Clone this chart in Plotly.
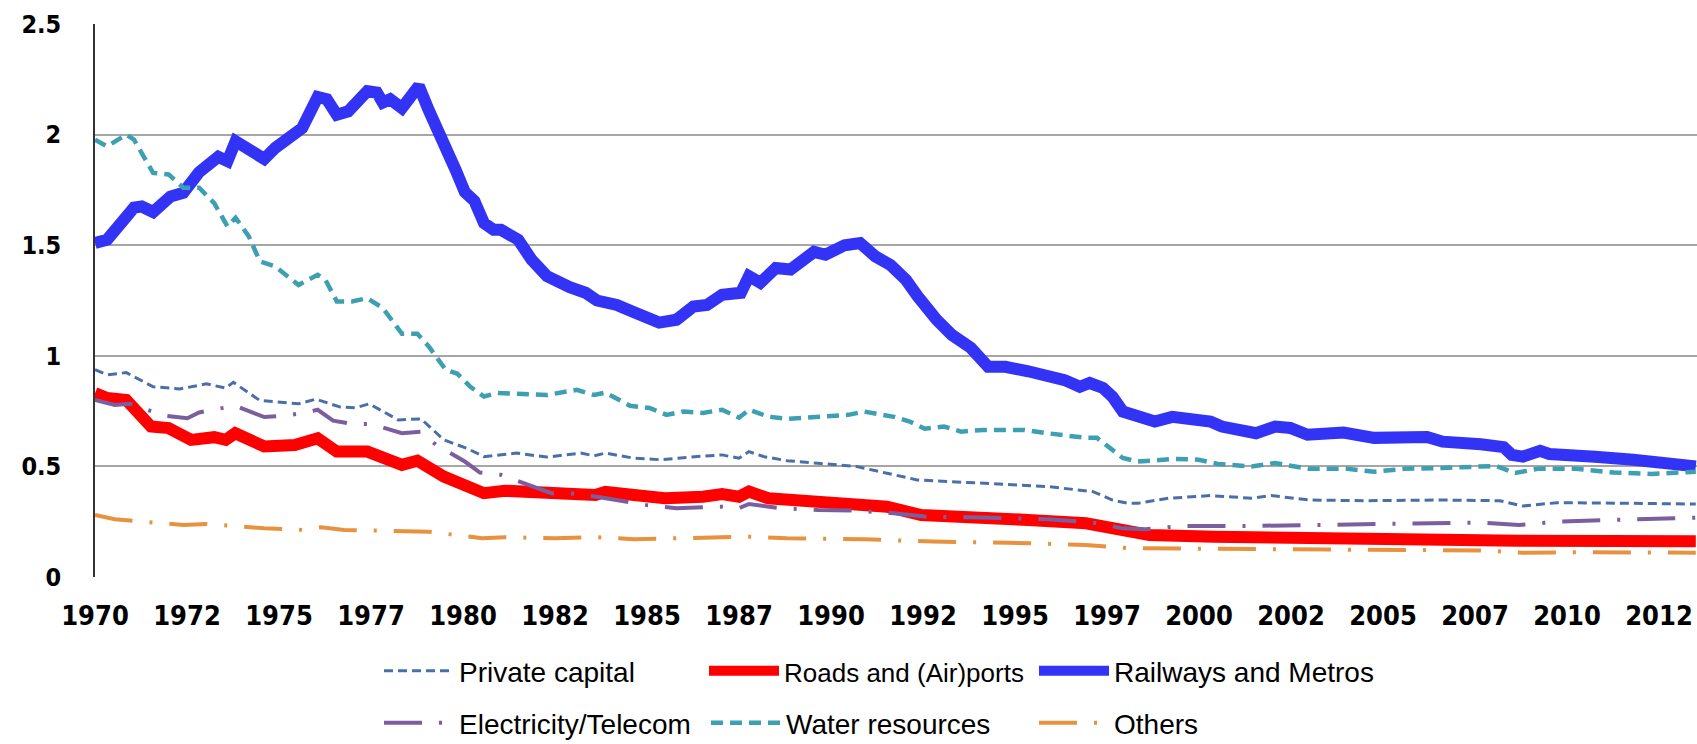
import plotly.graph_objects as go

# ---------------- data ----------------
TICK_YEARS = [1970, 1972.5, 1975, 1977.5, 1980, 1982.5, 1985, 1987.5, 1990,
              1992.5, 1995, 1997.5, 2000, 2002.5, 2005, 2007.5, 2010, 2012.5]
TICK_LABELS = ["1970", "1972", "1975", "1977", "1980", "1982", "1985", "1987", "1990",
               "1992", "1995", "1997", "2000", "2002", "2005", "2007", "2010", "2012"]
Y_TICKS = [0, 0.5, 1, 1.5, 2, 2.5]
Y_LABELS = ["0", "0.5", "1", "1.5", "2", "2.5"]

private_years = [1970.0, 1970.33, 1970.85, 1971.58, 1972.3, 1973.03, 1973.55, 1973.76, 1974.48,
                 1975.53, 1976.0, 1976.67, 1977.09, 1977.45, 1978.24, 1978.86, 1979.48, 1980.1,
                 1980.57, 1981.46, 1982.28, 1983.2, 1983.56, 1983.87, 1984.65, 1985.38, 1986.3,
                 1987.04, 1987.5, 1987.77, 1988.18, 1988.8, 1989.65, 1990.68, 1991.52, 1992.34,
                 1993.28, 1994.84, 1995.88, 1997.12, 1997.65, 1998.07, 1998.34, 1999.17, 2000.31,
                 2001.44, 2001.96, 2003.0, 2004.55, 2006.62, 2008.17, 2008.8, 2009.73, 2011.8,
                 2013.5]
private_values = [0.937, 0.914, 0.924, 0.86, 0.85, 0.873, 0.854, 0.88, 0.798,
                  0.783, 0.804, 0.768, 0.765, 0.783, 0.71, 0.715, 0.62, 0.582,
                  0.544, 0.56, 0.542, 0.56, 0.548, 0.56, 0.537, 0.53, 0.544,
                  0.552, 0.537, 0.567, 0.544, 0.526, 0.514, 0.50, 0.469, 0.439,
                  0.431, 0.416, 0.409, 0.386, 0.348, 0.333, 0.333, 0.356, 0.368,
                  0.356, 0.368, 0.348, 0.345, 0.348, 0.345, 0.321, 0.336, 0.333,
                  0.33]

roads_years = [1970.0, 1970.33, 1970.85, 1971.52, 1972.0, 1972.61, 1973.24, 1973.55, 1973.81,
               1974.6, 1975.43, 1976.05, 1976.57, 1977.4, 1978.34, 1978.76, 1979.48, 1980.1,
               1980.57, 1981.14, 1981.77, 1982.55, 1983.0, 1983.6, 1983.87, 1984.65, 1985.49,
               1986.52, 1987.04, 1987.5, 1987.77, 1988.29, 1989.65, 1990.68, 1991.52, 1992.45,
               1993.8, 1995.36, 1996.93, 1997.75, 1998.37, 1998.65, 2000.41, 2002.48, 2005.59,
               2008.7, 2013.5]
roads_values = [0.831, 0.809, 0.80, 0.68, 0.673, 0.62, 0.632, 0.62, 0.65,
                0.59, 0.597, 0.627, 0.567, 0.567, 0.507, 0.526, 0.454, 0.416,
                0.379, 0.39, 0.381, 0.368, 0.375, 0.371, 0.385, 0.371, 0.356,
                0.363, 0.375, 0.363, 0.386, 0.356, 0.345, 0.333, 0.318, 0.28,
                0.273, 0.258, 0.243, 0.213, 0.195, 0.19, 0.182, 0.175, 0.171,
                0.164, 0.162]

rail_years = [1970.0, 1970.33, 1971.06, 1971.27, 1971.58, 1972.05, 1972.4, 1972.83, 1973.35,
              1973.6, 1973.82, 1974.18, 1974.6, 1974.9, 1975.43, 1975.63, 1976.05, 1976.3,
              1976.57, 1976.88, 1977.4, 1977.66, 1977.82, 1978.02, 1978.34, 1978.8, 1979.07,
              1979.38, 1979.8, 1980.05, 1980.31, 1980.57, 1980.83, 1981.03, 1981.5, 1981.86,
              1982.28, 1982.9, 1983.33, 1983.64, 1984.18, 1984.6, 1984.96, 1985.33, 1985.8,
              1986.26, 1986.63, 1987.04, 1987.55, 1987.77, 1988.08, 1988.5, 1988.9, 1989.54,
              1989.85, 1990.37, 1990.79, 1991.2, 1991.62, 1992.04, 1992.35, 1992.66, 1992.87,
              1993.28, 1993.8, 1994.27, 1994.74, 1995.36, 1995.88, 1996.35, 1996.76, 1997.03,
              1997.39, 1997.65, 1997.93, 1998.34, 1998.8, 1999.27, 1999.8, 2000.31, 2000.62,
              2001.55, 2002.07, 2002.48, 2002.95, 2003.93, 2004.76, 2005.59, 2006.2, 2006.62,
              2007.24, 2007.66, 2008.28, 2008.5, 2008.8, 2009.27, 2009.52, 2010.24, 2010.76,
              2011.8, 2012.3, 2012.7, 2013.5]
rail_values = [1.51, 1.525, 1.67, 1.675, 1.65, 1.72, 1.737, 1.83, 1.90,
               1.88, 1.97, 1.94, 1.89, 1.94, 2.00, 2.03, 2.17, 2.16,
               2.09, 2.105, 2.196, 2.19, 2.145, 2.16, 2.12, 2.22, 2.11,
               1.98, 1.84, 1.74, 1.70, 1.60, 1.57, 1.57, 1.525, 1.435,
               1.36, 1.31, 1.285, 1.25, 1.23, 1.20, 1.178, 1.15, 1.163,
               1.223, 1.23, 1.276, 1.285, 1.36, 1.33, 1.397, 1.39, 1.47,
               1.457, 1.50, 1.51, 1.45, 1.41, 1.343, 1.27, 1.193, 1.163,
               1.095, 1.036, 0.95, 0.95, 0.93, 0.914, 0.89, 0.86, 0.877,
               0.855, 0.815, 0.748, 0.72, 0.703, 0.724, 0.72, 0.703, 0.68,
               0.65, 0.68, 0.674, 0.643, 0.653, 0.629, 0.638, 0.633, 0.612,
               0.612, 0.60, 0.587, 0.552, 0.544, 0.57, 0.556, 0.556, 0.544,
               0.53, 0.522, 0.507, 0.50]

elec_years = [1970.0, 1970.54, 1970.95, 1971.89, 1972.51, 1972.83, 1973.3, 1973.81, 1974.6,
              1975.17, 1975.74, 1976.05, 1976.47, 1976.98, 1977.5, 1978.34, 1978.86, 1979.27,
              1980.05, 1980.46, 1981.03, 1981.77, 1982.4, 1982.9, 1983.64, 1984.96, 1985.8,
              1987.04, 1987.5, 1987.77, 1988.6, 1989.65, 1990.68, 1991.71, 1992.55, 1993.8,
              1995.88, 1997.12, 1997.93, 1998.55, 1999.59, 2001.44, 2003.52, 2005.59, 2007.66,
              2008.7, 2009.73, 2011.8, 2013.5]
elec_values = [0.80, 0.778, 0.783, 0.729, 0.718, 0.744, 0.759, 0.774, 0.723,
               0.729, 0.744, 0.756, 0.707, 0.692, 0.692, 0.65, 0.657, 0.597,
               0.522, 0.472, 0.462, 0.416, 0.379, 0.379, 0.363, 0.326, 0.311,
               0.318, 0.311, 0.33, 0.311, 0.303, 0.30, 0.288, 0.273, 0.27,
               0.261, 0.246, 0.22, 0.216, 0.231, 0.231, 0.235, 0.24, 0.246,
               0.235, 0.25, 0.261, 0.268]

water_years = [1970.0, 1970.33, 1970.85, 1971.06, 1971.58, 1972.0, 1972.4, 1972.83, 1973.24,
               1973.6, 1973.82, 1974.18, 1974.48, 1974.9, 1975.53, 1976.05, 1976.26, 1976.57,
               1976.98, 1977.4, 1977.82, 1978.34, 1978.76, 1979.07, 1979.53, 1979.84, 1980.2,
               1980.57, 1980.94, 1982.28, 1983.09, 1983.56, 1983.87, 1984.54, 1985.07, 1985.53,
               1986.0, 1986.52, 1987.04, 1987.5, 1987.77, 1988.29, 1988.8, 1989.65, 1990.47,
               1990.9, 1991.71, 1992.14, 1992.55, 1993.07, 1993.54, 1994.12, 1995.26, 1995.88,
               1996.3, 1996.92, 1997.23, 1997.62, 1997.93, 1998.34, 1999.37, 1999.99, 2000.51,
               2001.43, 2002.07, 2002.99, 2004.03, 2004.76, 2005.59, 2006.62, 2007.66, 2008.07,
               2008.59, 2009.2, 2010.24, 2011.28, 2012.3, 2013.5]
water_values = [1.977, 1.947, 2.0, 1.977, 1.827, 1.82, 1.76, 1.76, 1.69,
                1.585, 1.624, 1.54, 1.427, 1.404, 1.32, 1.366, 1.344, 1.246,
                1.246, 1.26, 1.216, 1.10, 1.10, 1.042, 0.937, 0.92, 0.86,
                0.816, 0.832, 0.823, 0.846, 0.823, 0.834, 0.774, 0.764, 0.733,
                0.748, 0.742, 0.756, 0.72, 0.756, 0.725, 0.715, 0.724, 0.733,
                0.748, 0.724, 0.703, 0.67, 0.68, 0.657, 0.665, 0.665, 0.65,
                0.643, 0.629, 0.629, 0.575, 0.538, 0.522, 0.534, 0.53, 0.511,
                0.50, 0.515, 0.489, 0.489, 0.476, 0.489, 0.493, 0.50, 0.502,
                0.47, 0.489, 0.489, 0.472, 0.466, 0.476]

others_years = [1970.0, 1970.54, 1970.95, 1972.4, 1973.03, 1974.6, 1975.63, 1976.14, 1976.77,
                1978.34, 1979.07, 1980.52, 1981.14, 1982.5, 1983.64, 1984.65, 1986.52, 1987.77,
                1988.8, 1990.9, 1992.76, 1994.84, 1996.93, 1998.07, 2000.0, 2002.5, 2005.46,
                2007.66, 2008.8, 2010.5, 2013.5]
others_values = [0.28, 0.261, 0.255, 0.235, 0.24, 0.22, 0.213, 0.225, 0.213,
                 0.21, 0.205, 0.175, 0.18, 0.175, 0.18, 0.171, 0.175, 0.182,
                 0.175, 0.171, 0.16, 0.155, 0.145, 0.13, 0.128, 0.125, 0.122,
                 0.12, 0.11, 0.112, 0.11]

# ---------------- figure ----------------
FONT = "Liberation Sans, Arial, sans-serif"
TICK_FONT = "DejaVu Sans Condensed, DejaVu Sans, sans-serif"
W, H = 1697, 744
ML, MR, MT, MB = 95, 0, 24, 167
PX_PER_YEAR = 36.8
x_max = 1970 + (W - ML - MR) / PX_PER_YEAR

fig = go.Figure()

DASHDOT = "38px,17px,3px,17px"
series = [
    ("Private capital", private_years, private_values,
     dict(color="#4A6FA8", width=3, dash="9px,5px"), "legend"),
    ('<span style="font-size:26px">Roads and (Air)ports</span>', roads_years, roads_values,
     dict(color="#FF0000", width=12), "legend2"),
    ("Railways and Metros", rail_years, rail_values,
     dict(color="#3333F5", width=12), "legend3"),
    ("Electricity/Telecom", elec_years, elec_values,
     dict(color="#7B5E9E", width=4, dash=DASHDOT), "legend4"),
    ("Water resources", water_years, water_values,
     dict(color="#3C9FB2", width=4.5, dash="12px,7px"), "legend5"),
    ("Others", others_years, others_values,
     dict(color="#E8913E", width=4, dash=DASHDOT), "legend6"),
]

for name, xs, ys, line, leg in series:
    fig.add_trace(go.Scatter(x=xs, y=ys, mode="lines", name=name,
                             line=dict(shape="linear", **line), legend=leg))

# legend positions in pixels (left edge, vertical centre)
LEG_POS = {"legend": (379, 671), "legend2": (704, 671), "legend3": (1034, 671),
           "legend4": (379, 723), "legend5": (706, 723), "legend6": (1034, 723)}
legends = {}
for key, (px, py) in LEG_POS.items():
    legends[key] = dict(
        xref="container", yref="container",
        x=px / W, y=1 - py / H, xanchor="left", yanchor="middle",
        orientation="h", font=dict(family=FONT, size=28, color="#000000"),
        itemwidth=70, bgcolor="rgba(0,0,0,0)", itemclick=False, borderwidth=0,
    )

fig.update_layout(
    width=W, height=H, autosize=False,
    margin=dict(l=ML, r=MR, t=MT, b=MB, pad=0, autoexpand=False),
    paper_bgcolor="white", plot_bgcolor="white",
    showlegend=True,
    xaxis=dict(
        range=[1970, x_max], tickmode="array", tickvals=TICK_YEARS, ticktext=TICK_LABELS,
        showgrid=False, zeroline=False, showline=False, ticks="",
        tickfont=dict(family=TICK_FONT, size=27, color="#000000", weight="bold"),
        ticklabelstandoff=20,
    ),
    yaxis=dict(
        range=[0, 2.5], tickmode="array", tickvals=Y_TICKS, ticktext=Y_LABELS,
        showgrid=True, gridcolor="#A6A6A6", gridwidth=1.5,
        zeroline=False, showline=True, linecolor="#333333", linewidth=1.5,
        ticks="", tickfont=dict(family=TICK_FONT, size=25, color="#000000", weight="bold"),
        ticklabelstandoff=27,
    ),
    **legends,
)

fig.write_html("out.html", config={"displayModeBar": False},
               post_script="document.body.style.margin='0';document.body.style.overflow='hidden';")
